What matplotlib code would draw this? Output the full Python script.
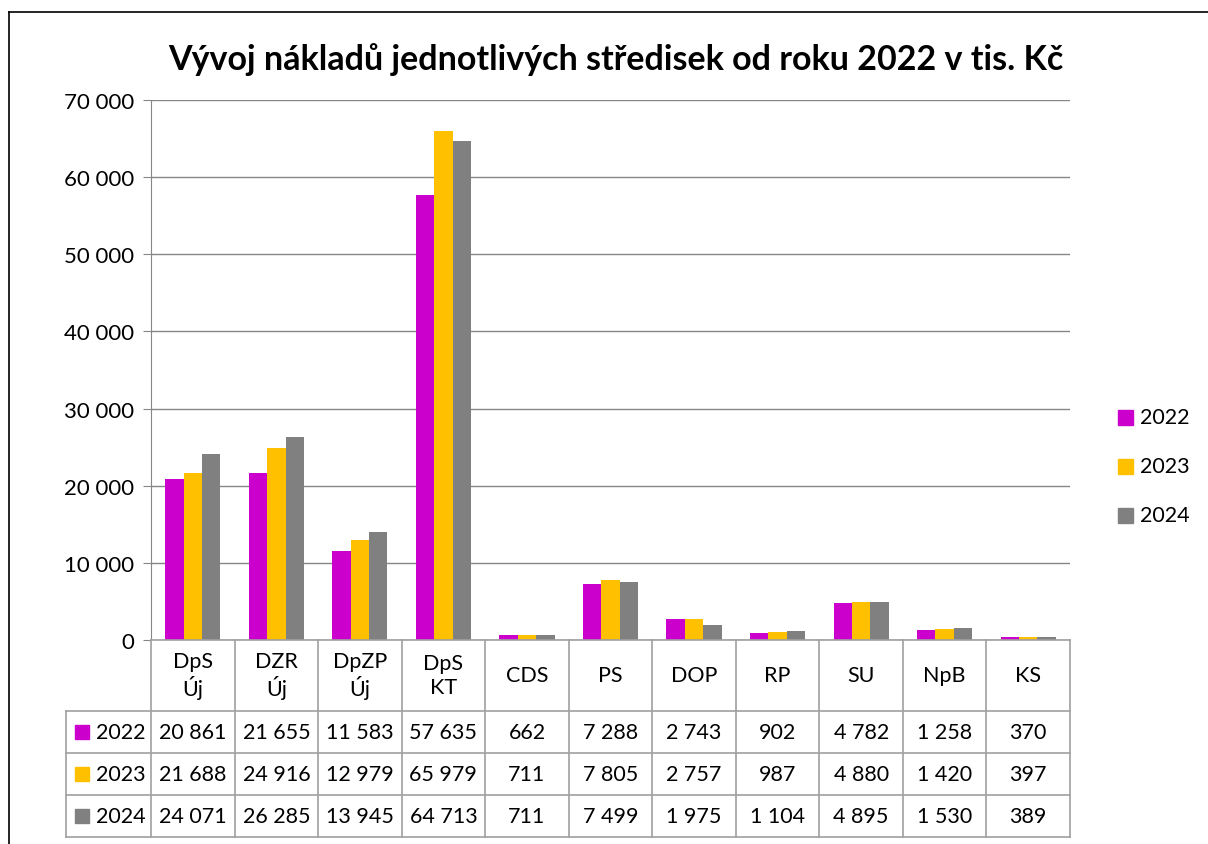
import matplotlib
matplotlib.use("Agg")
import matplotlib.pyplot as plt
import matplotlib.transforms as mtransforms
from matplotlib.lines import Line2D
from matplotlib.patches import Rectangle
import numpy as np

categories = ["DpS\nÚj", "DZR\nÚj", "DpZP\nÚj", "DpS\nKT", "CDS", "PS", "DOP", "RP", "SU", "NpB", "KS"]
series_names = ["2022", "2023", "2024"]
v2022 = [20861, 21655, 11583, 57635, 662, 7288, 2743, 902, 4782, 1258, 370]
v2023 = [21688, 24916, 12979, 65979, 711, 7805, 2757, 987, 4880, 1420, 397]
v2024 = [24071, 26285, 13945, 64713, 711, 7499, 1975, 1104, 4895, 1530, 389]
colors = ["#CC00CC", "#FFC000", "#808080"]
title = "Vývoj nákladů jednotlivých středisek od roku 2022 v tis. Kč"
yticks = [0, 10000, 20000, 30000, 40000, 50000, 60000, 70000]

FONT = "Lato"
plt.rcParams["font.family"] = [FONT, "DejaVu Sans"]

W, H = 1208, 845
fig = plt.figure(figsize=(W / 100, H / 100), dpi=100)

def fx(px):
    return px / W

def fy(py):
    return 1 - py / H

L, R, T, B = 151, 1070, 101, 641
ax = fig.add_axes([fx(L), fy(B), fx(R) - fx(L), fy(T) - fy(B)])

n = len(categories)
x = np.arange(n)
bw = 0.22
series = [v2022, v2023, v2024]
for j, (vals, c, name) in enumerate(zip(series, colors, series_names)):
    ax.bar(x + (j - 1) * bw, vals, width=bw, color=c, label=name, zorder=3)

ax.set_xlim(-0.5, n - 0.5)
ax.set_ylim(0, 70000)
ax.set_yticks(yticks)
ax.set_yticklabels([f"{v:,}".replace(",", " ") for v in yticks], fontsize=16)
ax.tick_params(axis="y", length=6, color="#868686", pad=6)
ax.set_xticks([])
ax.grid(axis="y", color="#868686", linewidth=1, zorder=0)
for s in ["top", "right", "bottom"]:
    ax.spines[s].set_visible(False)
ax.spines["left"].set_color("#868686")

fig.text(fx(616), fy(60), title, ha="center", va="center", fontsize=24.5, fontweight="bold")

# Data table
lc = "#A0A0A0"
tb = mtransforms.blended_transform_factory(ax.transData, fig.transFigure)
row_lines = [641, 712, 754, 796, 838]
for py in row_lines[1:]:
    fig.add_artist(Line2D([fx(66), fx(R)], [fy(py), fy(py)], color=lc, lw=1.2))
fig.add_artist(Line2D([fx(L), fx(R)], [fy(641), fy(641)], color=lc, lw=1.2))
for i in range(n + 1):
    fig.add_artist(Line2D([i - 0.5, i - 0.5], [fy(641), fy(838)], color=lc, lw=1.2, transform=tb))
fig.add_artist(Line2D([fx(66), fx(66)], [fy(712), fy(838)], color=lc, lw=1.2))

for i, cat in enumerate(categories):
    fig.text(i, fy(676), cat, transform=tb, ha="center", va="center", fontsize=15.5, linespacing=1.2)

for r, (vals, c, name) in enumerate(zip(series, colors, series_names)):
    yc = (row_lines[r + 1] + row_lines[r + 2]) / 2
    fig.add_artist(Rectangle((fx(75), fy(yc + 7)), fx(14), 14 / H, color=c, transform=fig.transFigure))
    fig.text(fx(96), fy(yc), name, ha="left", va="center", fontsize=15.5)
    for i, v in enumerate(vals):
        fig.text(i, fy(yc), f"{v:,}".replace(",", " "), transform=tb, ha="center", va="center", fontsize=15.5)

for k, (c, name) in enumerate(zip(colors, series_names)):
    yc = 418 + k * 49
    fig.add_artist(Rectangle((fx(1118), fy(yc + 7.5)), fx(15), 15 / H, color=c, transform=fig.transFigure))
    fig.text(fx(1140), fy(yc), name, ha="left", va="center", fontsize=15.5)

fig.add_artist(Line2D([fx(9), fx(9)], [fy(13), 0], color="black", lw=1.2))
fig.add_artist(Line2D([fx(9), 1], [fy(13), fy(13)], color="black", lw=1.2))

fig.savefig("out.png", dpi=100)
